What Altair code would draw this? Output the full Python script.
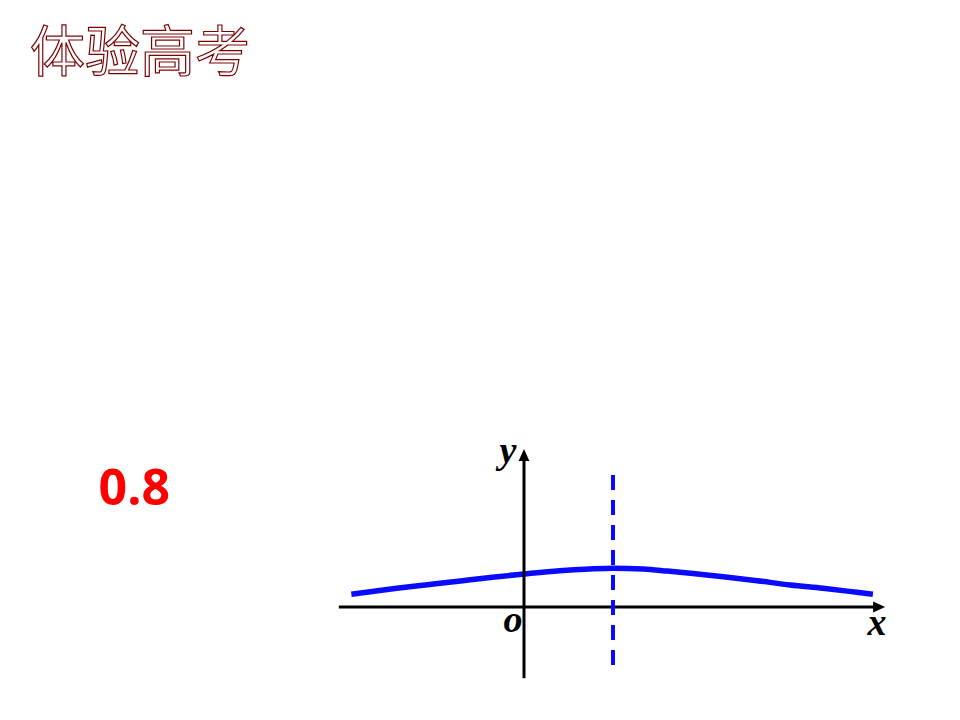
import altair as alt
import pandas as pd

# ---- data (diagram units: origin at the axes crossing, mean mu = 1) ----
curve_x = [-1.94, -1.43, -1.06, -0.69, -0.33, 0.0, 0.40, 0.74, 1.00, 1.34,
           1.61, 1.87, 2.24, 2.62, 2.99, 3.36, 3.74, 3.92]
curve_y = [0.143, 0.210, 0.253, 0.296, 0.337, 0.371, 0.408, 0.427, 0.435, 0.427,
           0.404, 0.379, 0.340, 0.296, 0.247, 0.210, 0.165, 0.143]

mu = 1.0
mu_line = [1.483, -0.735]          # top, bottom of dashed line

x_axis_ext = [-2.08, 3.93]         # x axis segment
y_axis_ext = [-0.80, 1.65]         # y axis segment
x_arrow = [3.99, 0.0]
y_arrow = [0.0, 1.708]

label_text = ["y", "o", "x"]
label_x = [-0.18, -0.124, 3.966]
label_y = [1.618, -0.28, -0.315]

prob_text = ["0.8"]
prob_x = [-4.78]
prob_y = [1.146]

title_text = ["体验高考"]
title_x = [-5.55]
title_y = [6.21]

# ---- layout ----
W, H = 944, 700
PX = 89.0                     # pixels per diagram unit
OX, OY = 516, 599             # origin inside plot area (pixels)
xs = alt.Scale(domain=[-OX / PX, (W - OX) / PX], nice=False, zero=False)
ys = alt.Scale(domain=[-(H - OY) / PX, OY / PX], nice=False, zero=False)


def X(f="x"):
    return alt.X(f, type="quantitative", scale=xs, axis=None)


def Y(f="y"):
    return alt.Y(f, type="quantitative", scale=ys, axis=None)


curve_df = pd.DataFrame({"x": curve_x, "y": curve_y})
curve = alt.Chart(curve_df).mark_line(
    color="#0a0aff", strokeWidth=5.5, interpolate="monotone"
).encode(x=X(), y=Y())

xaxis_df = pd.DataFrame({"x": [x_axis_ext[0]], "x2": [x_axis_ext[1]], "y": [0.0]})
xaxis = alt.Chart(xaxis_df).mark_rule(color="black", strokeWidth=3).encode(
    x=X(), x2="x2", y=Y()
)
yaxis_df = pd.DataFrame({"x": [0.0], "y": [y_axis_ext[1]], "y2": [y_axis_ext[0]]})
yaxis = alt.Chart(yaxis_df).mark_rule(color="black", strokeWidth=3).encode(
    x=X(), y=Y(), y2="y2"
)

xarrow = alt.Chart(pd.DataFrame({"x": [x_arrow[0]], "y": [x_arrow[1]]})).mark_point(
    shape="M1,0 L-1,-0.9 L-1,0.9 Z", filled=True, color="black", opacity=1, size=144
).encode(x=X(), y=Y())
yarrow = alt.Chart(pd.DataFrame({"x": [y_arrow[0]], "y": [y_arrow[1]]})).mark_point(
    shape="M0,-1 L-0.9,1 L0.9,1 Z", filled=True, color="black", opacity=1, size=144
).encode(x=X(), y=Y())

mu_df = pd.DataFrame({"x": [mu], "y": [mu_line[0]], "y2": [mu_line[1]]})
mu_rule = alt.Chart(mu_df).mark_rule(
    color="#0a0aff", strokeWidth=4, strokeDash=[15, 10]
).encode(x=X(), y=Y(), y2="y2")

lab_df = pd.DataFrame({"t": label_text, "x": label_x, "y": label_y})
labels = alt.Chart(lab_df).mark_text(
    font="Liberation Serif", fontStyle="italic", fontWeight="bold",
    fontSize=38, color="black", align="center", baseline="alphabetic"
).encode(x=X(), y=Y(), text="t:N")

prob_df = pd.DataFrame({"t": prob_text, "x": prob_x, "y": prob_y})
prob = alt.Chart(prob_df).mark_text(
    font="Open Sans", fontWeight="bold", fontSize=50, color="#ff0000",
    align="left", baseline="alphabetic"
).encode(x=X(), y=Y(), text="t:N")

title_df = pd.DataFrame({"t": title_text, "x": title_x, "y": title_y})
title = alt.Chart(title_df).mark_text(
    font="Noto Sans CJK SC", fontSize=55, fill="white", stroke="#7a0000",
    strokeWidth=1.2, align="left", baseline="middle"
).encode(x=X(), y=Y(), text="t:N")

chart = alt.layer(
    curve, xaxis, yaxis, xarrow, yarrow, mu_rule, labels, prob, title
).properties(
    width=W, height=H, padding=0, background="white"
).configure_view(stroke=None)

chart.save("out.html", embed_options={"renderer": "svg", "actions": False})
